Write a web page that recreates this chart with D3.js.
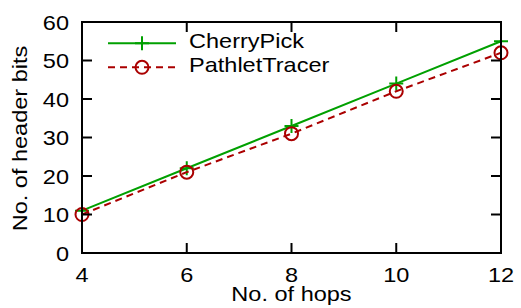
<!DOCTYPE html>
<html><head><meta charset="utf-8">
<script src="https://cdn.jsdelivr.net/npm/d3@7"></script>
<style>
body{margin:0;background:#fff;}
text{font-family:"Liberation Sans",Arial,Helvetica,sans-serif;font-size:21px;fill:#000;}
</style></head>
<body><svg id="c" width="521" height="308"></svg>
<script>
const hops = [4, 6, 8, 10, 12];
const cherryPick = [11, 22, 33, 44, 55];
const pathletTracer = [10, 21, 31, 42, 52];
const xTicks = [4, 6, 8, 10, 12];
const yTicks = [0, 10, 20, 30, 40, 50, 60];
const seriesNames = ["CherryPick", "PathletTracer"];

const svg = d3.select("#c");
const L = 82, R = 501, T = 22, B = 253;
const x = d3.scaleLinear().domain([4, 12]).range([L, R]);
const y = d3.scaleLinear().domain([0, 60]).range([B, T]);
const green = "#00a000", red = "#aa0000";
const stretch = 1.12;

function fit(sel){
  sel.each(function(){
    const w = this.getComputedTextLength();
    d3.select(this).attr("textLength", w*stretch).attr("lengthAdjust","spacingAndGlyphs");
  });
}

// series
const line = d3.line().x(d => x(d[0])).y(d => y(d[1]));
const cp = hops.map((h,i) => [h, cherryPick[i]]);
const pt = hops.map((h,i) => [h, pathletTracer[i]]);

svg.append("path").attr("d", line(cp)).attr("fill","none").attr("stroke",green).attr("stroke-width",2);
function plus(g, cx, cy){
  g.append("path").attr("d",`M${cx-7},${cy}H${cx+7}M${cx},${cy-7}V${cy+7}`).attr("stroke",green).attr("stroke-width",2).attr("fill","none");
}
cp.forEach(d => plus(svg, x(d[0]), y(d[1])));

svg.append("path").attr("d", line(pt)).attr("fill","none").attr("stroke",red).attr("stroke-width",2).attr("stroke-dasharray","7,5");
svg.selectAll("circle.pt").data(pt).enter().append("circle")
  .attr("cx", d => x(d[0])).attr("cy", d => y(d[1])).attr("r", 6.5)
  .attr("fill","none").attr("stroke",red).attr("stroke-width",2);

// legend
svg.append("line").attr("x1",108).attr("x2",176).attr("y1",43.3).attr("y2",43.3).attr("stroke",green).attr("stroke-width",2);
plus(svg, 142, 43.3);
svg.append("line").attr("x1",108).attr("x2",176).attr("y1",67.3).attr("y2",67.3).attr("stroke",red).attr("stroke-width",2).attr("stroke-dasharray","7,5");
svg.append("circle").attr("cx",142).attr("cy",67.3).attr("r",6.5).attr("fill","none").attr("stroke",red).attr("stroke-width",2);
svg.append("text").attr("x",189).attr("y",47.5).text(seriesNames[0]).call(fit);
svg.append("text").attr("x",189).attr("y",71.5).text(seriesNames[1]).call(fit);

// frame and ticks
const ax = svg.append("g").attr("stroke","#000").attr("stroke-width",2).attr("fill","none");
ax.append("rect").attr("x",L).attr("y",T).attr("width",R-L).attr("height",B-T);
xTicks.forEach(t => {
  ax.append("line").attr("x1",x(t)).attr("x2",x(t)).attr("y1",B).attr("y2",B-10);
  ax.append("line").attr("x1",x(t)).attr("x2",x(t)).attr("y1",T).attr("y2",T+10);
});
yTicks.forEach(t => {
  ax.append("line").attr("x1",L).attr("x2",L+10).attr("y1",y(t)).attr("y2",y(t));
  ax.append("line").attr("x1",R).attr("x2",R-10).attr("y1",y(t)).attr("y2",y(t));
});

// tick labels
svg.selectAll("text.xt").data(xTicks).enter().append("text").attr("class","xt")
  .attr("x", d => x(d)).attr("y", 282).attr("text-anchor","middle").text(d => d).call(fit);
svg.selectAll("text.yt").data(yTicks).enter().append("text").attr("class","yt")
  .attr("x", 69).attr("y", d => y(d)+7.5).attr("text-anchor","end").text(d => d).call(fit);

// titles
svg.append("text").attr("x",(L+R)/2).attr("y",301).attr("text-anchor","middle").text("No. of hops").call(fit);
svg.append("text").attr("transform","translate(27,138.5) rotate(-90)").attr("text-anchor","middle").text("No. of header bits").call(fit);
</script></body></html>
